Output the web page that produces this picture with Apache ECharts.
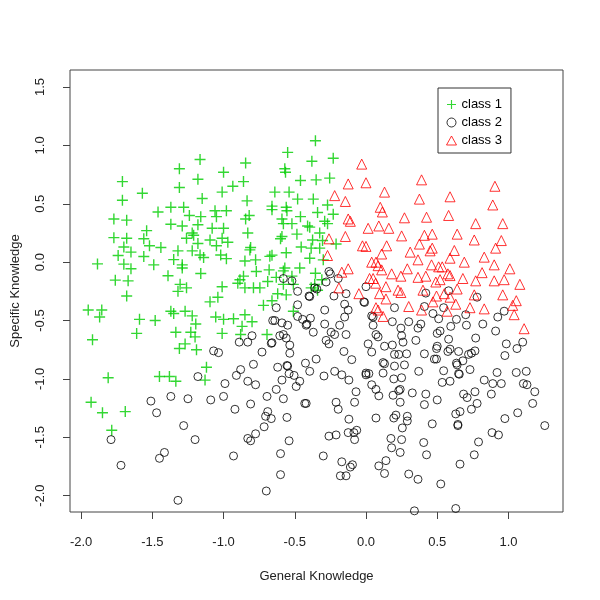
<!DOCTYPE html>
<html>
<head>
<meta charset="utf-8">
<script src="https://cdn.jsdelivr.net/npm/echarts@6/dist/echarts.min.js"></script>
<style>html,body{margin:0;background:#fff}#chart{width:600px;height:600px}</style>
</head>
<body>
<div id="chart"></div>
<script>
// points: [General Knowledge, Specific Knowledge]
const class1 = [
  [-1.165,0.88],[-1.31,0.80],[-1.00,0.77],[-1.71,0.69],[-1.18,0.71],[-1.57,0.59],[-1.31,0.64],[-1.01,0.60],[-0.935,0.65],[-1.71,0.53],
  [-1.15,0.545],[-1.46,0.43],[-1.37,0.47],[-1.28,0.47],[-1.06,0.44],[-0.98,0.44],[-1.77,0.37],[-1.68,0.36],[-1.24,0.40],[-1.16,0.39],
  [-1.05,0.39],[-1.37,0.325],[-1.29,0.31],[-1.18,0.32],[-1.54,0.27],[-1.08,0.29],[-1.00,0.29],[-1.22,0.25],[-1.21,0.23],[-1.77,0.21],
  [-1.68,0.205],[-1.56,0.20],[-1.26,0.205],[-1.095,0.19],[-1.01,0.205],[-1.18,0.16],[-0.97,0.17],[-1.70,0.13],[-1.52,0.14],[-1.44,0.125],
  [-1.05,0.14],
  [-1.65,0.086],[-1.32,0.097],[-1.22,0.097],[-1.165,0.062],[-1.14,0.04],[-1.02,0.062],[-0.98,0.03],[-1.74,0.057],[-1.56,0.048],[-1.35,0.022],
  [-1.885,-0.015],[-1.70,-0.017],[-1.49,-0.023],[-1.29,-0.023],[-1.65,-0.057],[-1.29,-0.05],[-1.39,-0.117],[-1.16,-0.097],[-1.76,-0.154],[-1.67,-0.16],
  [-1.305,-0.19],[-1.26,-0.22],[-1.32,-0.25],[-1.01,-0.21],[-1.68,-0.29],[-1.04,-0.30],[-1.095,-0.34],[-1.95,-0.41],[-1.855,-0.41],[-1.87,-0.47],
  [-1.37,-0.42],[-1.35,-0.44],[-1.27,-0.42],[-1.22,-0.46],[-1.59,-0.49],[-1.48,-0.50],[-1.195,-0.53],[-1.055,-0.47],[-1.00,-0.49],[-0.93,-0.485],
  [-1.61,-0.61],[-1.335,-0.60],[-1.23,-0.60],[-1.20,-0.64],[-1.01,-0.61],[-1.92,-0.665],[-1.27,-0.70],[-1.31,-0.74],[-1.19,-0.75],[-1.12,-0.90],
  [-1.81,-0.99],[-1.45,-0.98],[-1.38,-0.98],[-1.335,-1.02],[-1.13,-1.01],[-1.93,-1.20],[-1.85,-1.29],[-1.69,-1.28],[-1.785,-1.44],
  [-0.355,1.04],[-0.55,0.94],[-0.23,0.89],[-0.845,0.85],[-0.38,0.865],[-0.57,0.80],[-0.565,0.77],[-0.86,0.69],[-0.46,0.70],[-0.35,0.705],
  [-0.255,0.72],[-0.64,0.60],[-0.54,0.60],[-0.835,0.525],[-0.48,0.54],[-0.37,0.54],[-0.66,0.48],[-0.66,0.45],[-0.56,0.47],[-0.555,0.44],
  [-0.27,0.49],[-0.34,0.425],[-0.82,0.40],[-0.845,0.37],[-0.46,0.39],[-0.23,0.41],[-0.59,0.37],[-0.58,0.33],[-0.52,0.33],[-0.29,0.35],
  [-0.27,0.33],[-0.41,0.31],[-0.395,0.30],[-0.325,0.25],[-0.83,0.25],[-0.485,0.24],[-0.59,0.22],[-0.60,0.20],[-0.375,0.19],[-0.305,0.185],
  [-0.21,0.155],[-0.455,0.13],[-0.81,0.125],[-0.325,0.12],
  [-0.815,0.105],[-0.66,0.06],[-0.675,0.05],[-0.56,0.08],[-0.385,0.12],[-0.775,0.02],[-0.85,0.01],[-0.57,-0.05],[-0.58,-0.075],[-0.465,-0.05],
  [-0.395,0.034],[-0.30,0.02],[-0.68,-0.066],[-0.77,-0.08],[-0.86,-0.12],[-0.885,-0.15],[-0.90,-0.18],[-0.63,-0.13],[-0.52,-0.12],[-0.355,-0.095],
  [-0.69,-0.165],[-0.31,-0.15],[-0.85,-0.22],[-0.79,-0.22],[-0.745,-0.22],[-0.58,-0.19],[-0.51,-0.19],[-0.36,-0.19],[-0.385,-0.22],[-0.62,-0.27],
  [-0.56,-0.28],[-0.34,-0.24],[-0.66,-0.33],[-0.72,-0.37],[-0.51,-0.42],[-0.85,-0.45],[-0.80,-0.51],[-0.87,-0.55],[-0.88,-0.62],[-0.695,-0.62]
];

const class2 = [
  [-1.07,-0.76],[-1.035,-0.775],
  [-1.18,-0.98],[-0.99,-1.04],[-0.91,-0.97],[-1.51,-1.19],[-1.37,-1.15],[-1.25,-1.17],[-1.09,-1.18],[-1.00,-1.15],
  [-0.92,-1.26],[-1.47,-1.29],[-1.28,-1.40],[-1.79,-1.52],[-1.20,-1.52],[-1.45,-1.68],[-1.415,-1.63],[-1.72,-1.74],[-0.93,-1.66],[-1.32,-2.04],
  [0.20,-0.39],[0.41,-0.38],[0.42,-0.265],[0.58,-0.245],[0.545,-0.39],[0.78,-0.30],[0.47,-0.44],[0.70,-0.45],[0.97,-0.42],[0.925,-0.47],
  [0.185,-0.51],[0.30,-0.51],[0.385,-0.53],[0.365,-0.565],[0.51,-0.485],[0.635,-0.49],[0.595,-0.55],[0.705,-0.54],[0.82,-0.53],[0.245,-0.565],
  [0.52,-0.59],[0.50,-0.61],[0.91,-0.59],[0.25,-0.63],[0.26,-0.685],[0.35,-0.67],[0.50,-0.72],[0.495,-0.74],[0.58,-0.66],[0.77,-0.65],
  [0.985,-0.70],[1.10,-0.685],[1.06,-0.74],[0.185,-0.71],[0.20,-0.79],[0.23,-0.79],[0.285,-0.785],[0.41,-0.785],[0.575,-0.765],[0.59,-0.745],
  [0.65,-0.765],[0.495,-0.83],[0.48,-0.83],[0.68,-0.845],[0.72,-0.79],[0.74,-0.78],[0.765,-0.76],[0.975,-0.80],[0.635,-0.865],[0.64,-0.88],
  [0.20,-0.89],[0.27,-0.88],[0.37,-0.935],[0.545,-0.93],[0.73,-0.92],[0.92,-0.945],[1.055,-0.945],[1.125,-0.935],
  [0.195,-1.00],[0.25,-0.99],[0.65,-0.955],[0.655,-0.96],[0.24,-1.09],[0.23,-1.10],[0.325,-1.12],[0.19,-1.14],[0.42,-1.13],[0.535,-1.03],
  [0.59,-1.02],[0.83,-1.01],[0.89,-1.04],[0.95,-1.04],[1.105,-1.04],[1.13,-1.05],[1.185,-1.11],[1.17,-1.21],[0.24,-1.20],[0.41,-1.22],
  [0.50,-1.18],[0.685,-1.13],[0.71,-1.16],[0.765,-1.11],[0.88,-1.13],[0.78,-1.21],[0.74,-1.26],[0.63,-1.30],[0.66,-1.28],[0.21,-1.31],
  [0.195,-1.335],[0.29,-1.32],[0.29,-1.36],[1.065,-1.29],[0.975,-1.34],[0.465,-1.385],[0.645,-1.39],[0.645,-1.40],[1.255,-1.40],[0.255,-1.42],
  [0.175,-1.51],[0.25,-1.52],[0.18,-1.59],[0.24,-1.63],[0.405,-1.545],[0.425,-1.65],[0.885,-1.46],[0.93,-1.48],[0.79,-1.54],[0.76,-1.65],
  [0.66,-1.73],[0.30,-1.815],[0.365,-1.86],[0.525,-1.90],[0.63,-2.11],[0.34,-2.13],
  [-0.26,-0.08],[-0.25,-0.10],[-0.195,-0.14],[-0.28,-0.17],[-0.58,-0.14],[-0.52,-0.16],[-0.36,-0.22],[-0.345,-0.23],[-0.48,-0.25],[-0.40,-0.29],
  [-0.395,-0.295],[-0.225,-0.29],[-0.14,-0.27],[0.00,-0.21],[-0.015,-0.34],[-0.01,-0.345],[-0.15,-0.36],[-0.48,-0.365],[-0.63,-0.39],[-0.125,-0.41],
  [-0.29,-0.41],[0.04,-0.46],[0.05,-0.47],[-0.655,-0.50],[-0.64,-0.50],[-0.59,-0.52],[-0.48,-0.465],[-0.445,-0.49],[-0.42,-0.54],[-0.415,-0.53],
  [-0.39,-0.48],[-0.29,-0.53],[-0.55,-0.54],[-0.185,-0.54],[-0.245,-0.60],[-0.37,-0.60],[-0.15,-0.47],[-0.14,-0.62],[0.07,-0.62],[0.085,-0.64],
  [-0.605,-0.63],[-0.58,-0.62],[-0.56,-0.65],[-0.22,-0.62],[-0.80,-0.63],[-0.66,-0.69],[-0.665,-0.695],[-0.89,-0.685],[-0.83,-0.685],[-0.28,-0.67],
  [-0.26,-0.70],[-0.535,-0.71],[0.015,-0.70],[0.04,-0.77],[0.13,-0.72],[-0.73,-0.77],[-0.535,-0.78],[-0.155,-0.765],[-0.10,-0.835],[-0.35,-0.83],
  [-0.79,-0.875],[-0.62,-0.90],[-0.555,-0.885],[-0.55,-0.89],[-0.425,-0.865],[-0.88,-0.92],[-0.395,-0.935],[-0.22,-0.935],[0.00,-0.95],[0.12,-0.86],
  [0.13,-0.87],[0.05,-0.54],
  [-0.83,-1.02],[-0.775,-1.05],[-0.59,-1.01],[-0.54,-0.955],[-0.505,-0.97],[-0.465,-1.02],[-0.49,-1.065],[-0.295,-0.975],[-0.17,-0.965],[-0.12,-1.01],
  [0.00,-0.965],[0.02,-0.955],[0.12,-0.95],[0.04,-1.05],[0.07,-1.09],[0.09,-1.145],[-0.07,-1.11],[-0.63,-1.09],[-0.695,-1.15],[-0.58,-1.17],
  [-0.43,-1.21],[-0.42,-1.21],[-0.21,-1.20],[-0.195,-1.26],[-0.08,-1.20],[-0.81,-1.215],[-0.69,-1.28],[-0.705,-1.32],[-0.665,-1.34],[-0.555,-1.33],
  [-0.12,-1.345],[0.07,-1.335],[-0.715,-1.41],[-0.125,-1.46],[-0.085,-1.46],[-0.065,-1.44],[-0.08,-1.52],[-0.26,-1.49],[-0.21,-1.48],[-0.83,-1.51],
  [-0.81,-1.53],[-0.775,-1.47],[-0.54,-1.53],[-0.60,-1.64],[-0.30,-1.66],[-0.17,-1.71],[-0.095,-1.735],[-0.11,-1.755],[0.14,-1.70],[0.09,-1.745],
  [0.13,-1.81],[-0.60,-1.82],[-0.18,-1.83],[-0.14,-1.83],[-0.70,-1.96]
];

const class3 = [
  [-0.03,0.84],[-0.125,0.67],[0.00,0.68],[0.13,0.60],[-0.22,0.57],[-0.145,0.52],[0.10,0.47],[0.115,0.43],[-0.125,0.37],[-0.11,0.35],
  [0.015,0.29],[0.09,0.31],[0.16,0.29],[-0.26,0.20],[-0.145,0.22],[-0.025,0.14],[0.00,0.135],[0.145,0.14],
  [0.39,0.705],[0.905,0.65],[0.375,0.54],[0.59,0.56],[0.89,0.49],[0.27,0.38],[0.425,0.385],[0.58,0.40],[0.77,0.33],[0.96,0.33],
  [0.25,0.225],[0.41,0.23],[0.465,0.24],[0.64,0.24],[0.76,0.19],[0.95,0.185],[0.375,0.155],[0.465,0.12],[0.91,0.12],
  [0.45,0.097],[0.31,0.086],[0.62,0.10],[0.365,0.02],[0.59,0.034],[0.69,0.00],[0.83,0.043],[0.90,-0.023],[1.01,-0.057],[0.29,-0.057],
  [0.46,-0.023],[0.51,-0.04],[0.535,-0.04],[0.18,-0.10],[0.245,-0.12],[0.365,-0.13],[0.42,-0.12],[0.575,-0.10],[0.59,-0.115],[0.68,-0.14],
  [0.77,-0.16],[0.815,-0.09],[0.90,-0.16],[0.97,-0.15],[1.08,-0.19],[0.49,-0.17],[0.52,-0.15],[0.225,-0.24],[0.245,-0.26],[0.40,-0.24],
  [0.495,-0.29],[0.55,-0.27],[0.64,-0.23],[0.59,-0.30],[0.76,-0.28],[0.96,-0.28],[0.47,-0.34],[0.63,-0.36],[1.055,-0.33],[1.03,-0.37],
  [0.30,-0.38],[0.39,-0.41],[0.57,-0.42],[0.73,-0.39],[0.83,-0.40],[1.04,-0.45],[1.11,-0.57],
  [-0.27,0.057],[-0.125,-0.057],[-0.17,-0.086],[0.11,0.07],[0.04,0.00],[0.07,0.00],[0.085,-0.03],[0.11,-0.066],[0.025,-0.14],[0.05,-0.14],
  [0.068,-0.18],[0.14,-0.21],[-0.19,-0.22],[-0.05,-0.27],[0.095,-0.27],[0.07,-0.39],[0.085,-0.41],[0.14,-0.315],[0.12,-0.465]
];

const classNames = ['class 1', 'class 2', 'class 3'];
const xTicks = [-2.0, -1.5, -1.0, -0.5, 0.0, 0.5, 1.0];
const yTicks = [-2.0, -1.5, -1.0, -0.5, 0.0, 0.5, 1.0, 1.5];

const font = '"Liberation Sans", Arial, sans-serif';
const ink = '#222';
const plus = 'path://M4.8,0H6.2V4.8H11V6.2H6.2V11H4.8V6.2H0V4.8H4.8Z';

const chart = echarts.init(document.getElementById('chart'));

const option = {
  animation: false,
  backgroundColor: '#fff',
  grid: {
    left: 70, right: 37, top: 70, bottom: 88,
    show: true, borderColor: '#444', borderWidth: 1, backgroundColor: 'transparent'
  },
  legend: {
    data: classNames,
    orient: 'vertical',
    left: 438, top: 88,
    itemWidth: 10, itemHeight: 9, itemGap: 5,
    padding: [10, 9, 6, 8],
    borderColor: '#333', borderWidth: 1,
    backgroundColor: '#fff',
    itemStyle: { borderWidth: 1 },
    textStyle: { fontSize: 13, fontFamily: font, color: '#000' }
  },
  xAxis: {
    type: 'value',
    min: -2.078, max: 1.383,
    name: 'General Knowledge',
    nameLocation: 'middle', nameGap: 58,
    nameTextStyle: { fontSize: 13, fontFamily: font, color: ink },
    axisLine: { show: false, onZero: false },
    splitLine: { show: false },
    axisTick: { show: true, inside: false, length: 7, customValues: xTicks, lineStyle: { color: '#444' } },
    axisLabel: {
      customValues: xTicks, margin: 24, fontSize: 13, fontFamily: font, color: ink,
      formatter: v => v.toFixed(1)
    }
  },
  yAxis: {
    type: 'value',
    min: -2.14, max: 1.646,
    name: 'Specific Knowledge',
    nameLocation: 'middle', nameGap: 48, nameRotate: 90,
    nameTextStyle: { fontSize: 13, fontFamily: font, color: ink },
    axisLine: { show: false, onZero: false },
    splitLine: { show: false },
    axisTick: { show: true, inside: false, length: 7, customValues: yTicks, lineStyle: { color: '#444' } },
    axisLabel: {
      customValues: yTicks, margin: 23, rotate: 90, fontSize: 13, fontFamily: font, color: ink,
      formatter: v => v.toFixed(1)
    }
  },
  series: [
    {
      name: classNames[0], type: 'scatter', data: class1,
      symbol: plus, symbolSize: 11,
      itemStyle: { color: '#00CD00', borderWidth: 0 }
    },
    {
      name: classNames[1], type: 'scatter', data: class2,
      symbol: 'circle', symbolSize: 8,
      itemStyle: { color: 'rgba(0,0,0,0)', borderColor: '#000', borderWidth: 1 }
    },
    {
      name: classNames[2], type: 'scatter', data: class3,
      symbol: 'triangle', symbolSize: 10,
      itemStyle: { color: 'rgba(0,0,0,0)', borderColor: '#FF0000', borderWidth: 1 }
    }
  ]
};

chart.setOption(option);
</script>
</body>
</html>
